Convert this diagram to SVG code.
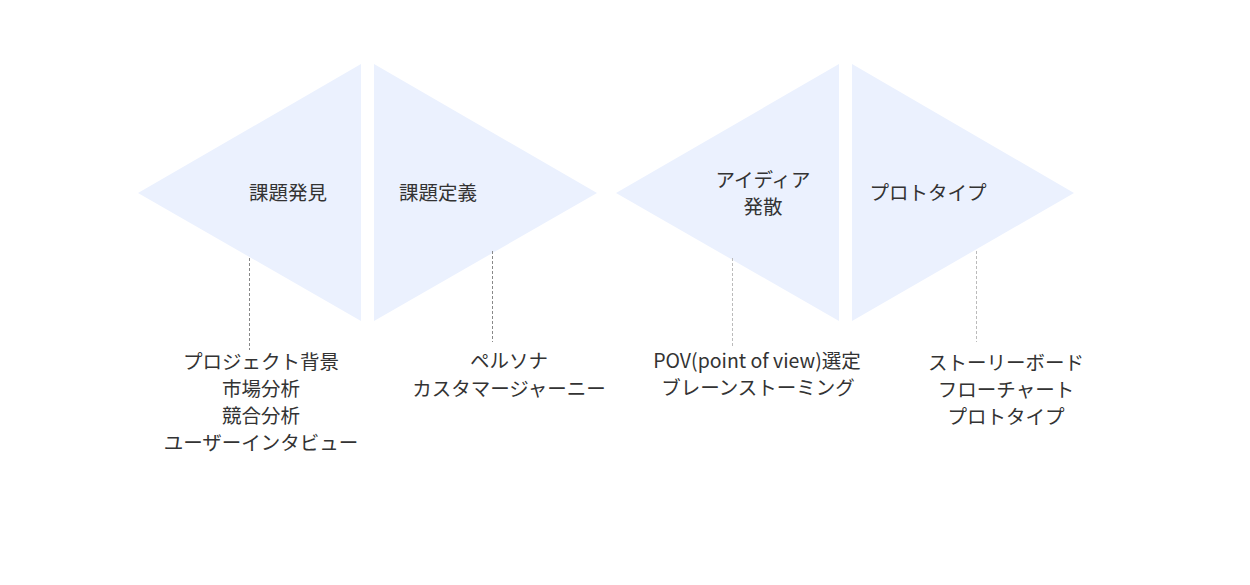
<svg xmlns="http://www.w3.org/2000/svg" width="1250" height="585" viewBox="0 0 1250 585">
<style>
.tri{fill:#EBF1FE;}
.lbl{font-family:"Noto Sans CJK JP","Noto Sans",sans-serif;font-size:19.5px;fill:#333333;text-anchor:middle;}
.d1{stroke:#888888;stroke-width:1;stroke-dasharray:3 2;fill:none;}
.d2{stroke:#BBBBBB;stroke-width:1;stroke-dasharray:3 2;fill:none;}
</style>
<rect width="1250" height="585" fill="#FFFFFF"/>
<g id="node-discover">
<polygon class="tri" points="138,193 361,64 361,321"/>
<text class="lbl" x="288" y="200">課題発見</text>
</g>
<g id="node-define">
<polygon class="tri" points="374,64 597,193 374,321"/>
<text class="lbl" x="438" y="200">課題定義</text>
</g>
<g id="node-ideate">
<polygon class="tri" points="616,193 839,64 839,321"/>
<text class="lbl" x="763" y="187">アイディア</text>
<text class="lbl" x="763" y="214">発散</text>
</g>
<g id="node-prototype">
<polygon class="tri" points="852,64 1074,193 852,321"/>
<text class="lbl" x="928" y="200">プロトタイプ</text>
</g>
<g id="connectors">
<line class="d1" x1="249.5" y1="258" x2="249.5" y2="350"/>
<line class="d1" x1="492.5" y1="251" x2="492.5" y2="342"/>
<line class="d2" x1="732.5" y1="258" x2="732.5" y2="348"/>
<line class="d2" x1="976.5" y1="251" x2="976.5" y2="342"/>
</g>
<g id="detail-discover">
<text class="lbl" x="261" y="369">プロジェクト背景</text>
<text class="lbl" x="261" y="396">市場分析</text>
<text class="lbl" x="261" y="423">競合分析</text>
<text class="lbl" x="261" y="450">ユーザーインタビュー</text>
</g>
<g id="detail-define">
<text class="lbl" x="509" y="368">ペルソナ</text>
<text class="lbl" x="509" y="396">カスタマージャーニー</text>
</g>
<g id="detail-ideate">
<text class="lbl" x="757" y="368">POV(point of view)選定</text>
<text class="lbl" x="758" y="395">ブレーンストーミング</text>
</g>
<g id="detail-prototype">
<text class="lbl" x="1006" y="370">ストーリーボード</text>
<text class="lbl" x="1006" y="397">フローチャート</text>
<text class="lbl" x="1006" y="424">プロトタイプ</text>
</g>
</svg>
